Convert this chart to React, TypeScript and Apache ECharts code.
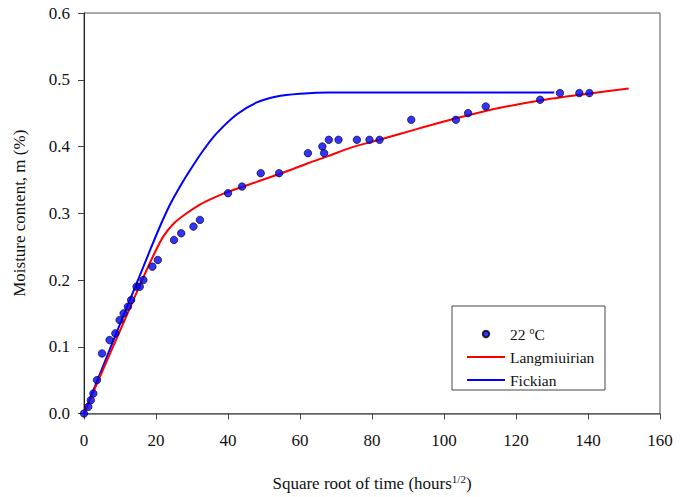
import React, { useEffect, useRef } from "react";
import * as echarts from "echarts";

const obsX = [0, 1.2, 1.9, 2.6, 3.6, 5, 7.1, 8.7, 9.9, 11, 12.2, 13.1, 14.6, 15.5, 16.5, 19, 20.5, 25, 27, 30.4, 32.2, 40, 43.9, 49.1, 54.2, 62.2, 66.2, 66.7, 68, 70.7, 75.8, 79.3, 82.1, 90.9, 103.3, 106.7, 111.6, 126.7, 132.2, 137.6, 140.4];
const obsY = [0, 0.01, 0.02, 0.03, 0.05, 0.09, 0.11, 0.12, 0.14, 0.15, 0.16, 0.17, 0.19, 0.19, 0.2, 0.22, 0.23, 0.26, 0.27, 0.28, 0.29, 0.33, 0.34, 0.36, 0.36, 0.39, 0.4, 0.39, 0.41, 0.41, 0.41, 0.41, 0.41, 0.44, 0.44, 0.45, 0.46, 0.47, 0.48, 0.48, 0.48];

const langX = [0, 5, 10, 15, 19.3, 22, 25, 28.5, 32.2, 36, 40, 48, 55.4, 62.2, 68, 74, 82, 92.4, 104, 115.6, 126.7, 140, 151.3];
const langY = [0, 0.062, 0.124, 0.186, 0.237, 0.265, 0.285, 0.3, 0.313, 0.323, 0.332, 0.347, 0.361, 0.375, 0.386, 0.398, 0.41, 0.426, 0.443, 0.458, 0.469, 0.479, 0.487];

const fickX = [0, 5, 10, 15, 18.3, 21, 23.9, 27, 29.4, 33.1, 36.9, 42.4, 48, 53.5, 60, 68.3, 80, 100, 130.6];
const fickY = [0, 0.067, 0.134, 0.2, 0.244, 0.279, 0.313, 0.343, 0.364, 0.394, 0.42, 0.448, 0.466, 0.475, 0.479, 0.481, 0.481, 0.481, 0.481];

const xTicks = { min: 0, max: 160, interval: 20 };
const yTicks = { min: 0, max: 0.6, interval: 0.1 };

const zip = (xs: number[], ys: number[]) => xs.map((x, i) => [x, ys[i]]);

const FONT = "Liberation Serif";
const LINE_ICON = "path://M0,0H38V2H0Z";

export default function App() {
  const ref = useRef<HTMLDivElement>(null);
  useEffect(() => {
    if (!ref.current) return;
    const chart = echarts.init(ref.current, undefined, { renderer: "svg" });
    chart.setOption({
      animation: false,
      backgroundColor: "#fff",
      textStyle: { fontFamily: FONT },
      grid: { left: 84, right: 20, top: 13, bottom: 80.5, show: true, borderColor: "#555", borderWidth: 1 },
      legend: {
        orient: "vertical",
        left: 462,
        top: 320,
        itemWidth: 38,
        itemHeight: 6.5,
        itemGap: 7,
        textStyle: {
          fontFamily: FONT,
          fontSize: 15.5,
          color: "#111",
          lineHeight: 14,
          rich: {
            sup: { fontSize: 10, padding: [0, 0, 8, 0], fontFamily: FONT, color: "#111" },
          },
        },
        formatter: (n: string) => (n === "22 °C" ? "22 {sup|o}C" : n),
        data: [
          { name: "22 °C", icon: "circle" },
          { name: "Langmiuirian", icon: LINE_ICON },
          { name: "Fickian", icon: LINE_ICON },
        ],
      },
      graphic: [
        {
          type: "rect",
          shape: { x: 452, y: 306, width: 153, height: 84 },
          style: { fill: "none", stroke: "#444", lineWidth: 1 },
          z: 0,
        },
      ],
      xAxis: {
        type: "value",
        ...xTicks,
        splitLine: { show: false },
        axisLine: { lineStyle: { color: "#666", width: 1.5 } },
        axisTick: { length: 6, lineStyle: { color: "#444" } },
        axisLabel: { fontFamily: FONT, fontSize: 17, color: "#111", margin: 18 },
        name: "Square root of time (hours{sup|1/2})",
        nameLocation: "middle",
        nameGap: 60,
        nameTextStyle: {
          fontFamily: FONT,
          fontSize: 17,
          color: "#111",
          rich: { sup: { fontSize: 11, padding: [0, 0, 9, 0], fontFamily: FONT, color: "#111" } },
        },
      },
      yAxis: {
        type: "value",
        ...yTicks,
        splitLine: { show: false },
        axisLine: { lineStyle: { color: "#222", width: 1 } },
        axisTick: { length: 6, lineStyle: { color: "#444" } },
        axisLabel: {
          fontFamily: FONT,
          fontSize: 17,
          color: "#111",
          margin: 14,
          formatter: (v: number) => v.toFixed(1),
        },
        name: "Moisture content, m (%)",
        nameLocation: "middle",
        nameGap: 56,
        nameTextStyle: { fontFamily: FONT, fontSize: 17, color: "#111" },
      },
      series: [
        {
          name: "22 °C",
          type: "scatter",
          data: zip(obsX, obsY),
          symbol: "circle",
          symbolSize: 7.5,
          itemStyle: { color: "#0000ff", borderColor: "#000", borderWidth: 0.8 },
          z: 5,
        },
        {
          name: "Langmiuirian",
          type: "line",
          data: zip(langX, langY),
          showSymbol: false,
          symbol: "none",
          smooth: 0.25,
          lineStyle: { color: "#ff0000", width: 2 },
          itemStyle: { color: "#ff0000" },
          z: 3,
        },
        {
          name: "Fickian",
          type: "line",
          data: zip(fickX, fickY),
          showSymbol: false,
          symbol: "none",
          smooth: 0.25,
          lineStyle: { color: "#0000ff", width: 2 },
          itemStyle: { color: "#0000ff" },
          z: 2,
        },
      ],
    });
    return () => chart.dispose();
  }, []);
  return (
    <div
      ref={ref}
      style={{ position: "absolute", left: 0, top: 0, width: 680, height: 497 }}
    />
  );
}
